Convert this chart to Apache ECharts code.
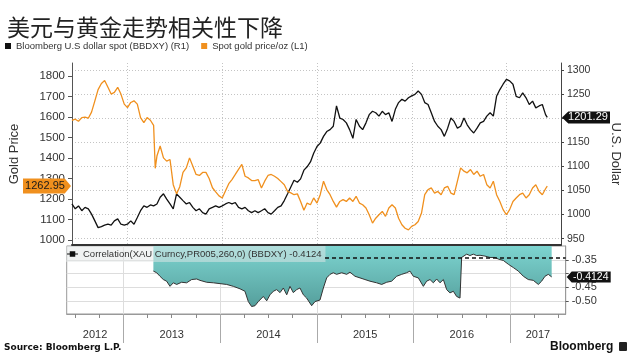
<!DOCTYPE html>
<html><head><meta charset="utf-8">
<script src="https://cdn.jsdelivr.net/npm/echarts@6/dist/echarts.min.js"></script>
<style>html,body{margin:0;padding:0;background:#fff}#c{width:630px;height:360px}</style>
</head><body><div id="c"></div>
<script>
// ---- data (dates as decimal years) ----
const dates = [
2012.413,2012.448,2012.482,2012.517,2012.551,2012.586,2012.620,2012.655,2012.689,2012.724,
2012.758,2012.793,2012.827,2012.861,2012.896,2012.930,2012.965,2012.999,2013.034,2013.068,
2013.103,2013.137,2013.172,2013.206,2013.241,2013.275,2013.292,2013.310,2013.344,2013.379,
2013.413,2013.448,2013.482,2013.517,2013.551,2013.585,2013.620,2013.654,2013.689,2013.723,
2013.758,2013.792,2013.827,2013.861,2013.896,2013.930,2013.965,2013.999,2014.034,2014.068,
2014.102,2014.137,2014.171,2014.206,2014.240,2014.275,2014.309,2014.344,2014.378,2014.413,
2014.447,2014.482,2014.516,2014.551,2014.585,2014.620,2014.654,2014.689,2014.723,2014.757,
2014.792,
2014.826,2014.861,2014.895,2014.930,2014.964,2014.999,2015.033,2015.068,2015.102,2015.137,
2015.171,2015.205,2015.240,2015.274,2015.309,2015.343,2015.378,2015.412,2015.447,2015.481,
2015.516,2015.550,2015.585,2015.619,2015.653,2015.688,2015.722,2015.757,2015.791,2015.826,
2015.860,2015.895,2015.929,2015.964,2015.998,2016.033,2016.067,2016.102,2016.136,2016.171,
2016.205,2016.240,2016.274,2016.309,2016.343,2016.378,2016.412,2016.446,2016.481,2016.515,
2016.550,2016.584,2016.619,2016.653,2016.688,2016.722,2016.757,2016.791,2016.826,2016.860,
2016.894,2016.929,2016.963,2016.998,2017.032,2017.067,2017.101,2017.136,2017.170,2017.205,
2017.239,2017.274,2017.308,2017.343,2017.377,2017.411,2017.429];

const gold = [
1585,1590,1580,1598,1600,1595,1625,1680,1735,1765,
1779,1746,1713,1721,1746,1713,1664,1647,1672,1680,
1664,1598,1573,1598,1585,1560,1350,1410,1459,1401,
1385,1393,1270,1225,1260,1330,1352,1401,1360,1320,
1315,1330,1330,1300,1255,1235,1215,1205,1240,1275,
1295,1320,1345,1369,1311,1303,1290,1290,1295,1254,
1287,1315,1320,1311,1300,1285,1270,1237,1230,1221,
1225,
1188,1145,1180,1172,1205,1180,1221,1287,1246,1221,
1188,1160,1188,1197,1188,1205,1188,1213,1180,1172,
1156,1123,1082,1106,1123,1139,1115,1156,1172,1156,
1106,1074,1057,1049,1066,1074,1090,1131,1221,1246,
1254,1229,1237,1221,1254,1262,1229,1221,1287,1352,
1336,1328,1344,1320,1336,1311,1320,1270,1254,1287,
1221,1188,1148,1123,1148,1188,1205,1221,1229,1205,
1221,1254,1270,1237,1221,1250,1262.95];

const dxy = [
1022,1012,1018,1008,1015,1012,1001,987,973,975,
978,980,978,987,991,980,978,980,987,980,
994,1008,1018,1015,1020,1018,1020,1022,1036,1043,
1032,1022,1012,1043,1036,1029,1022,1025,1015,1008,
1012,1004,1001,1012,1015,1018,1015,1018,1022,1025,
1022,1025,1015,1012,1015,1008,1004,1008,1004,1008,
1012,1004,1001,1008,1015,1018,1029,1043,1057,1071,
1067,
1074,1092,1099,1109,1127,1141,1148,1162,1172,1176,
1183,1225,1200,1197,1190,1176,1158,1197,1183,1176,
1190,1207,1214,1211,1204,1214,1207,1211,1193,1218,
1232,1239,1235,1242,1246,1249,1256,1249,1232,1228,
1211,1193,1183,1176,1162,1179,1200,1193,1179,1183,
1200,1186,1176,1169,1179,1190,1193,1204,1211,1204,
1245,1259,1270,1280,1277,1270,1245,1242,1252,1242,
1228,1235,1221,1225,1228,1207,1201.29];

const corrDates = [
2013.310,2013.344,2013.378,2013.413,2013.447,2013.482,2013.516,2013.551,2013.602,2013.654,
2013.706,2013.758,2013.792,2013.861,2013.930,2013.999,2014.068,2014.137,2014.206,2014.257,
2014.292,2014.326,2014.361,2014.395,2014.447,2014.482,2014.516,2014.551,2014.585,2014.620,
2014.654,2014.689,2014.723,2014.757,2014.792,2014.826,2014.861,2014.895,2014.947,2014.981,
2015.033,2015.068,2015.102,2015.137,2015.171,2015.205,2015.257,2015.309,2015.343,2015.395,
2015.447,2015.498,2015.550,2015.619,2015.671,2015.723,2015.774,2015.826,2015.878,2015.929,
2015.964,2015.998,2016.050,2016.102,2016.136,2016.171,2016.205,2016.240,2016.274,2016.309,
2016.343,2016.377,2016.412,2016.446,2016.481,2016.498,2016.550,2016.584,2016.619,2016.653,
2016.688,2016.739,2016.791,2016.843,2016.877,2016.929,2016.981,2017.032,2017.084,2017.136,
2017.187,2017.239,2017.291,2017.325,2017.360,2017.394,2017.429];

const corr = [
-0.391,-0.397,-0.410,-0.422,-0.428,-0.447,-0.434,-0.440,-0.432,-0.434,
-0.422,-0.420,-0.425,-0.432,-0.434,-0.437,-0.440,-0.447,-0.456,-0.465,
-0.503,-0.521,-0.518,-0.503,-0.484,-0.500,-0.478,-0.465,-0.459,-0.470,
-0.453,-0.478,-0.447,-0.470,-0.459,-0.453,-0.478,-0.490,-0.518,-0.503,
-0.497,-0.453,-0.416,-0.403,-0.397,-0.403,-0.397,-0.403,-0.395,-0.410,
-0.416,-0.422,-0.428,-0.434,-0.440,-0.432,-0.428,-0.410,-0.403,-0.397,
-0.391,-0.410,-0.416,-0.447,-0.428,-0.422,-0.434,-0.420,-0.434,-0.422,
-0.459,-0.471,-0.465,-0.484,-0.490,-0.341,-0.329,-0.334,-0.329,-0.334,
-0.333,-0.336,-0.341,-0.341,-0.347,-0.352,-0.366,-0.378,-0.391,-0.410,
-0.422,-0.425,-0.440,-0.428,-0.410,-0.403,-0.4124];

const corrMean = -0.341;
const yearStarts = [2013, 2014, 2015, 2016, 2017];
const quarterTicks = [2012.5,2012.75,2013.25,2013.5,2013.75,2014.25,2014.5,2014.75,
  2015.25,2015.5,2015.75,2016.25,2016.5,2016.75,2017.25,2017.5];
const goldTicks = [1000,1100,1200,1300,1400,1500,1600,1700,1800];
const dxyTicks = [950,1000,1050,1100,1150,1200,1250,1300];
const corrTicks = [-0.50,-0.45,-0.40,-0.35];
const corrLabels = [-0.50,-0.45,-0.35];
const X_MIN = 2012.4137, X_MAX = 2017.574;
const yearLabelPos = [(X_MIN+2013)/2, 2013.5, 2014.5, 2015.5, 2016.5, (2017+X_MAX)/2];

const DXY_NAME = 'Bloomberg U.S dollar spot (BBDXY) (R1)';
const GOLD_NAME = 'Spot gold price/oz (L1)';
const CORR_NAME = 'Correlation(XAU Curncy,PR005,260,0) (BBDXY)';

const F = '"Liberation Sans", Arial, sans-serif';
const chart = echarts.init(document.getElementById('c'));
const dotted = {show:true, lineStyle:{color:'#c4c4c4', type:[1,2], width:1}};
const lastGold = gold[gold.length-1], lastDxy = dxy[dxy.length-1], lastCorr = corr[corr.length-1];
const plain = v => String(v);

chart.setOption({
  animation:false,
  backgroundColor:'#fff',
  textStyle:{fontFamily:F},
  title:{text:'美元与黄金走势相关性下降', left:7, top:16, padding:0,
    textStyle:{fontFamily:'"Noto Sans CJK SC", sans-serif', fontSize:23, fontWeight:'normal', color:'#222'}},
  legend:[
    {data:[DXY_NAME, GOLD_NAME], left:5, top:41, padding:0, icon:'rect', itemWidth:6, itemHeight:6, itemGap:12,
      textStyle:{fontSize:9.5, color:'#333', fontFamily:F}, selectedMode:false},
    {data:[CORR_NAME], left:66, top:246, padding:[3,4,3,1], icon:'path://M0,3h3v1h-3z M3,0.5h6v6h-6z M9,3h3v1h-3z',
      itemWidth:11, itemHeight:6, backgroundColor:'rgba(228,232,232,0.5)', selectedMode:false,
      formatter:n => n + ' ' + lastCorr.toFixed(4), textStyle:{fontSize:9.5, color:'#333', fontFamily:F}}
  ],
  grid:[
    {left:66.7, right:64.3, top:63, height:182},
    {left:66.7, right:64.3, top:246, height:68, show:true, borderColor:'#999', borderWidth:1}
  ],
  xAxis:[
    {gridIndex:0, type:'value', min:X_MIN, max:X_MAX,
      axisLine:{show:true, onZero:false, lineStyle:{color:'#333', width:2}},
      axisTick:{show:false, customValues:yearStarts}, axisLabel:{show:false, customValues:yearStarts},
      splitLine:dotted},
    {gridIndex:1, type:'value', min:X_MIN, max:X_MAX, position:'bottom',
      axisLine:{show:true, onZero:false, lineStyle:{color:'#999'}},
      axisTick:{show:true, customValues:yearStarts, length:29, lineStyle:{color:'#aaa'}},
      axisLabel:{customValues:yearLabelPos, formatter:v => String(Math.floor(v)), margin:15, fontSize:11, color:'#333'},
      splitLine:{show:true, lineStyle:{color:'#ddd'}}},
    {gridIndex:1, type:'value', min:X_MIN, max:X_MAX, position:'bottom',
      axisLine:{show:false, onZero:false},
      axisTick:{show:true, customValues:quarterTicks, length:4, lineStyle:{color:'#888'}},
      axisLabel:{show:false}, splitLine:{show:false}}
  ],
  yAxis:[
    {gridIndex:0, type:'value', position:'left', min:975, max:1865,
      name:'Gold Price', nameLocation:'middle', nameGap:51, nameRotate:90,
      nameTextStyle:{fontSize:13, color:'#333'},
      axisLine:{show:true, lineStyle:{color:'#555'}},
      axisTick:{show:true, length:4, customValues:goldTicks, lineStyle:{color:'#555'}},
      axisLabel:{customValues:goldTicks, formatter:plain, fontSize:11.5, color:'#333', margin:7},
      splitLine:{show:false}},
    {gridIndex:0, type:'value', position:'right', min:937, max:1314,
      name:'U.S. Dollar', nameLocation:'middle', nameGap:48, nameRotate:-90,
      nameTextStyle:{fontSize:13, color:'#333'},
      axisLine:{show:true, lineStyle:{color:'#444'}},
      axisTick:{show:true, length:3, customValues:dxyTicks, lineStyle:{color:'#444'}},
      axisLabel:{customValues:dxyTicks, formatter:plain, fontSize:10.5, color:'#333', margin:6},
      splitLine:dotted},
    {gridIndex:1, type:'value', position:'right', min:-0.5484, max:-0.299,
      axisLine:{show:true, lineStyle:{color:'#999'}},
      axisTick:{show:true, length:3, customValues:corrTicks, lineStyle:{color:'#555'}},
      axisLabel:{customValues:corrLabels, formatter:v => v.toFixed(2), fontSize:11, color:'#333', margin:6},
      splitLine:{show:true, lineStyle:{color:'#ddd'}}}
  ],
  series:[
    {name:DXY_NAME, type:'line', xAxisIndex:0, yAxisIndex:1, symbol:'none', z:3,
      data:dates.map((d,i) => [d, dxy[i]]),
      lineStyle:{color:'#111', width:1.3}, itemStyle:{color:'#111'},
      markPoint:{symbol:'path://M6,0H46V12H6L0,6Z', symbolSize:[48,12], symbolOffset:[25,0],
        itemStyle:{color:'#111'},
        label:{show:true, position:'inside', color:'#fff', fontSize:11, offset:[2,0], formatter:() => lastDxy.toFixed(2)},
        data:[{coord:[X_MAX, lastDxy]}]}},
    {name:GOLD_NAME, type:'line', xAxisIndex:0, yAxisIndex:0, symbol:'none', z:4,
      data:dates.map((d,i) => [d, gold[i]]),
      lineStyle:{color:'#f0901e', width:1.3}, itemStyle:{color:'#f0901e'},
      markPoint:{symbol:'path://M0,0H40L46,7L40,14H0Z', symbolSize:[48,15], symbolOffset:[-25,0],
        itemStyle:{color:'#f0901e'},
        label:{show:true, position:'inside', color:'#1a1a1a', fontSize:11, offset:[-2,0], formatter:() => lastGold.toFixed(2)},
        data:[{coord:[X_MIN, lastGold]}]}},
    {name:CORR_NAME, type:'line', xAxisIndex:1, yAxisIndex:2, symbol:'none', z:3,
      data:corrDates.map((d,i) => [d, corr[i]]),
      lineStyle:{color:'#333', width:1}, itemStyle:{color:'#111'},
      areaStyle:{origin:'end', opacity:1,
        color:new echarts.graphic.LinearGradient(0,0,0,1,[{offset:0,color:'#7dd4d0'},{offset:1,color:'#559f9c'}])},
      markPoint:{symbol:'path://M5,0H44V11H5L0,5.5Z', symbolSize:[44,11], symbolOffset:[23,0],
        itemStyle:{color:'#111'},
        label:{show:true, position:'inside', color:'#fff', fontSize:10.5, offset:[2,0], formatter:() => lastCorr.toFixed(4)},
        data:[{coord:[X_MAX, lastCorr]}]}}
  ],
  graphic:[
    {type:'text', left:4, top:343, style:{text:'Source: Bloomberg L.P.', font:'bold 9px "DejaVu Sans", sans-serif', fill:'#111'}},
    {type:'text', left:550, top:341, style:{text:'Bloomberg', font:'bold 12px "Liberation Sans", Arial, sans-serif', fill:'#111'}},
    {type:'rect', left:619, top:342, shape:{width:8, height:9, r:1}, style:{fill:'#222'}}
  ]
});

// dashed reference line starts just right of the lower legend box
const legendRight = 325;
const xStart = chart.convertFromPixel({xAxisIndex:1}, legendRight);
chart.setOption({series:[{}, {}, {
  markLine:{silent:true, symbol:'none', label:{show:false},
    lineStyle:{type:[4,3], color:'#111', width:1.5},
    data:[[{coord:[xStart, corrMean]}, {coord:[X_MAX, corrMean]}]]}
}]});
</script>
</body></html>
